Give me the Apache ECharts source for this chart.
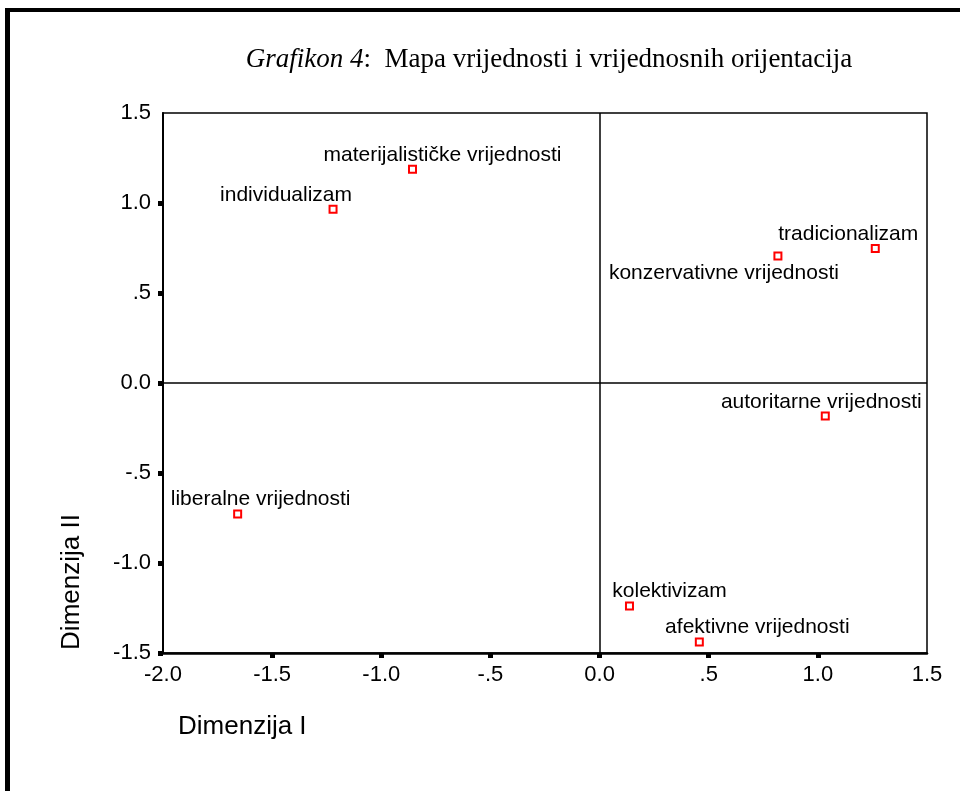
<!DOCTYPE html>
<html>
<head>
<meta charset="utf-8">
<script src="https://cdn.jsdelivr.net/npm/echarts@6/dist/echarts.min.js"></script>
<style>
html,body{margin:0;padding:0;background:#fff;}
#chart{width:960px;height:791px;}
</style>
</head>
<body>
<div id="chart"></div>
<script>
// ---- data ----
const pointNames = [
  'materijalističke vrijednosti',
  'individualizam',
  'tradicionalizam',
  'konzervativne vrijednosti',
  'autoritarne vrijednosti',
  'liberalne vrijednosti',
  'kolektivizam',
  'afektivne vrijednosti'
];
const dim1 = [-0.857, -1.221, 1.263, 0.817, 1.034, -1.658, 0.137, 0.457];
const dim2 = [1.187, 0.965, 0.747, 0.706, -0.183, -0.728, -1.239, -1.439];
const xTickLabels = ['-2.0', '-1.5', '-1.0', '-.5', '0.0', '.5', '1.0', '1.5'];
const yTickLabels = ['-1.5', '-1.0', '-.5', '0.0', '.5', '1.0', '1.5'];
const innerTicks = [-1.5, -1, -0.5, 0, 0.5, 1];

// ---- label placement (styling) ----
const labelOffsets = [
  [30, -14], [-47, -14], [-27, -14], [-54, 17],
  [-4, -14], [23, -15], [40, -15], [58, -15]
];

const chart = echarts.init(document.getElementById('chart'), null, {renderer: 'canvas'});
const sans = 'Liberation Sans, Arial, sans-serif';
const serif = 'Liberation Serif, Times New Roman, serif';

const data = pointNames.map((n, i) => ({name: n, value: [dim1[i], dim2[i]]}));

chart.setOption({
  animation: false,
  backgroundColor: '#fff',
  grid: {
    left: 163, right: 33, top: 113, bottom: 138,
    show: true, borderColor: '#000', borderWidth: 1.5, backgroundColor: 'transparent'
  },
  xAxis: {
    type: 'value', min: -2, max: 1.5, interval: 0.5,
    axisLine: {show: true, onZero: false, lineStyle: {color: '#000', width: 2.5}},
    axisTick: {show: true, inside: false, length: 5, customValues: innerTicks,
               lineStyle: {color: '#000', width: 5}},
    axisLabel: {
      color: '#000', fontFamily: sans, fontSize: 22, margin: 11,
      formatter: v => xTickLabels[Math.round((v + 2) / 0.5)]
    },
    splitLine: {show: false}
  },
  yAxis: {
    type: 'value', min: -1.5, max: 1.5, interval: 0.5,
    axisLine: {show: true, onZero: false, lineStyle: {color: '#000', width: 2}},
    axisTick: {show: true, inside: false, length: 5, customValues: innerTicks,
               lineStyle: {color: '#000', width: 5}},
    axisLabel: {
      color: '#000', fontFamily: sans, fontSize: 22, margin: 12,
      formatter: v => yTickLabels[Math.round((v + 1.5) / 0.5)]
    },
    splitLine: {show: false}
  },
  series: [{
    type: 'scatter',
    symbol: 'rect',
    symbolSize: 7,
    itemStyle: {color: '#fff', borderColor: '#ff0000', borderWidth: 2, opacity: 1},
    label: {
      show: true, position: 'inside', color: '#000', opacity: 1, formatter: '{b}',
      fontFamily: sans, fontSize: 21, align: 'center', verticalAlign: 'middle'
    },
    labelLayout: p => ({
      dx: labelOffsets[p.dataIndex][0],
      dy: labelOffsets[p.dataIndex][1]
    }),
    data: data,
    markLine: {
      silent: true, symbol: ['none', 'none'],
      label: {show: false},
      lineStyle: {color: '#000', width: 1.5, type: 'solid', opacity: 1},
      data: [{xAxis: 0}, {yAxis: 0}]
    },
    z: 5
  }],
  graphic: [
    {type: 'rect', shape: {x: 5, y: 8, width: 955, height: 4}, style: {fill: '#000'}},
    {type: 'rect', shape: {x: 5, y: 8, width: 5, height: 783}, style: {fill: '#000'}},
    {
      type: 'text', x: 549, y: 60,
      style: {
        text: '{i|Grafikon 4}{n|:  Mapa vrijednosti i vrijednosnih orijentacija}',
        align: 'center', verticalAlign: 'middle',
        rich: {
          i: {fontFamily: serif, fontStyle: 'italic', fontSize: 27, fill: '#000'},
          n: {fontFamily: serif, fontSize: 27, fill: '#000'}
        }
      }
    },
    {
      type: 'text', x: 178, y: 727,
      style: {text: 'Dimenzija I', fontFamily: sans, fontSize: 26, fill: '#000',
              align: 'left', verticalAlign: 'middle'}
    },
    {
      type: 'text', x: 72, y: 582, rotation: Math.PI / 2,
      style: {text: 'Dimenzija II', fontFamily: sans, fontSize: 26, fill: '#000',
              align: 'center', verticalAlign: 'middle'}
    }
  ]
});
</script>
</body>
</html>
